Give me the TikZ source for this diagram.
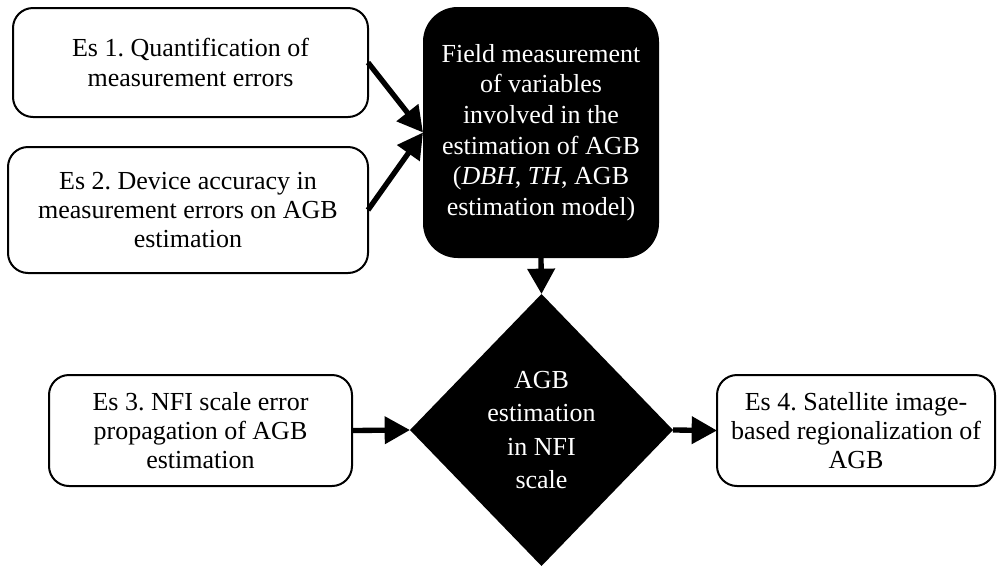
\documentclass[tikz,border=0pt]{standalone}
\usepackage{fontspec}
\setmainfont{Liberation Serif}
\frenchspacing
\usetikzlibrary{shapes.geometric,arrows.meta}

\tikzset{
  esbox/.style={draw=black, line width=1.5pt, rounded corners=15pt,
    align=center, inner sep=2pt, outer sep=0pt,
    font=\fontsize{19.5pt}{22pt}\selectfont},
  mainbox/.style={fill=black, text=white, rounded corners=26pt,
    align=center, inner sep=2pt, outer sep=0pt,
    font=\fontsize{19.5pt}{23pt}\selectfont},
  decision/.style={diamond, fill=black, text=white, align=center,
    inner sep=0pt, outer sep=0pt,
    font=\fontsize{19.5pt}{25pt}\selectfont},
  flow/.style={line width=4pt, -{Triangle[length=19pt,width=20pt]}}
}

\begin{document}
\begin{tikzpicture}[x=0.75pt, y=-0.75pt]
  \useasboundingbox (0,0) rectangle (997,565);

  % study boxes
  \node[esbox, minimum width=266.25pt, minimum height=81.75pt] (es1) at (190.5,62.5)
    {Es 1. Quantification of\\measurement errors};
  \node[esbox, minimum width=270pt, minimum height=94.5pt] (es2) at (188,210)
    {Es 2. Device accuracy in\\measurement errors on AGB\\estimation};
  \node[esbox, minimum width=227.25pt, minimum height=83.25pt] (es3) at (200.5,430.5)
    {Es 3. NFI scale error\\propagation of AGB\\estimation};
  \node[esbox, minimum width=208.5pt, minimum height=83.25pt] (es4) at (856,430.5)
    {Es 4. Satellite image-\\based regionalization of\\AGB};

  % central process and decision
  \node[mainbox, minimum width=177pt, minimum height=188.25pt] (field) at (541,132.5)
    {Field measurement\\of variables\\involved in the\\estimation of AGB\\(\textit{DBH}, \textit{TH}, AGB\\estimation model)};
  \node[decision, minimum width=197.25pt, minimum height=204pt] (agb) at (541.5,430)
    {AGB\\estimation\\in NFI\\scale};

  % connectors
  \draw[flow] (es1.east) -- (field.west);
  \draw[flow] (es2.east) -- (field.west);
  \draw[flow] (field.south) -- (agb.north);
  \draw[flow] (es3.east) -- (agb.west);
  \draw[flow] (agb.east) -- (es4.west);
\end{tikzpicture}
\end{document}
